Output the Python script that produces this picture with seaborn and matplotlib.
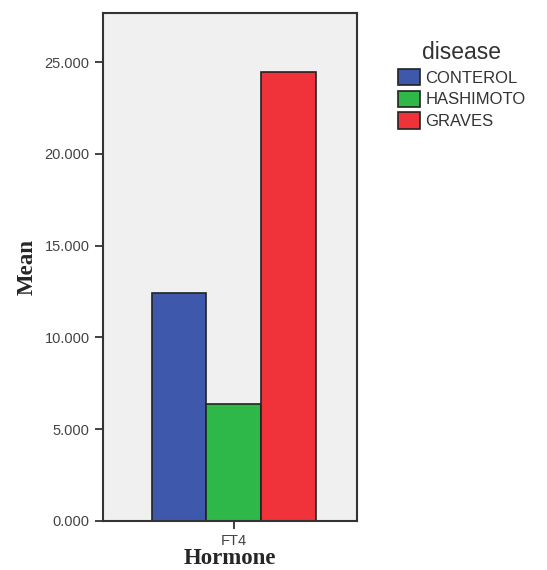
import pandas as pd
import matplotlib
matplotlib.use("Agg")
import matplotlib.pyplot as plt
import seaborn as sns


# ==========================================
# DATA
# ==========================================

hormone = ["FT4", "FT4", "FT4"]
disease = ["CONTEROL", "HASHIMOTO", "GRAVES"]
mean_values = [12.40, 6.38, 24.45]

bar_colors = ["#3E58AC", "#2EB84A", "#F0323A"]

df = pd.DataFrame({
    "Hormone": hormone,
    "disease": disease,
    "Mean": mean_values
})


# ==========================================
# PLOT
# ==========================================

sns.set_style("white")

fig = plt.figure(figsize=(5.47, 5.70), dpi=100)
ax = fig.add_axes([0.188, 0.086, 0.465, 0.892])
ax.set_facecolor("#F0F0F0")

sns.barplot(
    data=df,
    x="Hormone",
    y="Mean",
    hue="disease",
    palette=bar_colors,
    saturation=1,
    width=0.646,
    edgecolor="#222222",
    linewidth=1.2,
    ax=ax
)

ax.set_xlim(-0.515, 0.485)
ax.set_ylim(0, 27.7)
ax.set_yticks([0, 5, 10, 15, 20, 25])
ax.set_yticklabels(["0.000", "5.000", "10.000", "15.000", "20.000", "25.000"])

for spine in ax.spines.values():
    spine.set_color("#333333")
    spine.set_linewidth(1.5)

ax.tick_params(
    axis="both",
    direction="out",
    length=6,
    width=1.3,
    color="#333333",
    labelsize=10.5,
    labelcolor="#444444",
    left=True,
    bottom=True
)
for lbl in ax.get_yticklabels() + ax.get_xticklabels():
    lbl.set_family("Liberation Sans")

ax.set_ylabel("Mean", family="Liberation Serif", fontweight="bold",
              fontsize=16.5, labelpad=5)
ax.set_xlabel("Hormone", family="Liberation Serif", fontweight="bold",
              fontsize=16.5, labelpad=0)

leg = ax.legend(
    title="disease",
    loc="upper left",
    bbox_to_anchor=(0.70, 0.955),
    bbox_transform=fig.transFigure,
    frameon=False,
    fontsize=12,
    title_fontsize=16.5,
    handlelength=1.35,
    handleheight=1.15,
    handletextpad=0.3,
    labelspacing=0.3
)
for t in leg.get_texts():
    t.set_family("Liberation Sans")
    t.set_color("#333333")
leg.get_title().set_family("Liberation Sans")
leg.get_title().set_color("#333333")
for h in leg.legend_handles:
    h.set_edgecolor("#222222")

plt.savefig("out.png", dpi=100)
plt.close()
